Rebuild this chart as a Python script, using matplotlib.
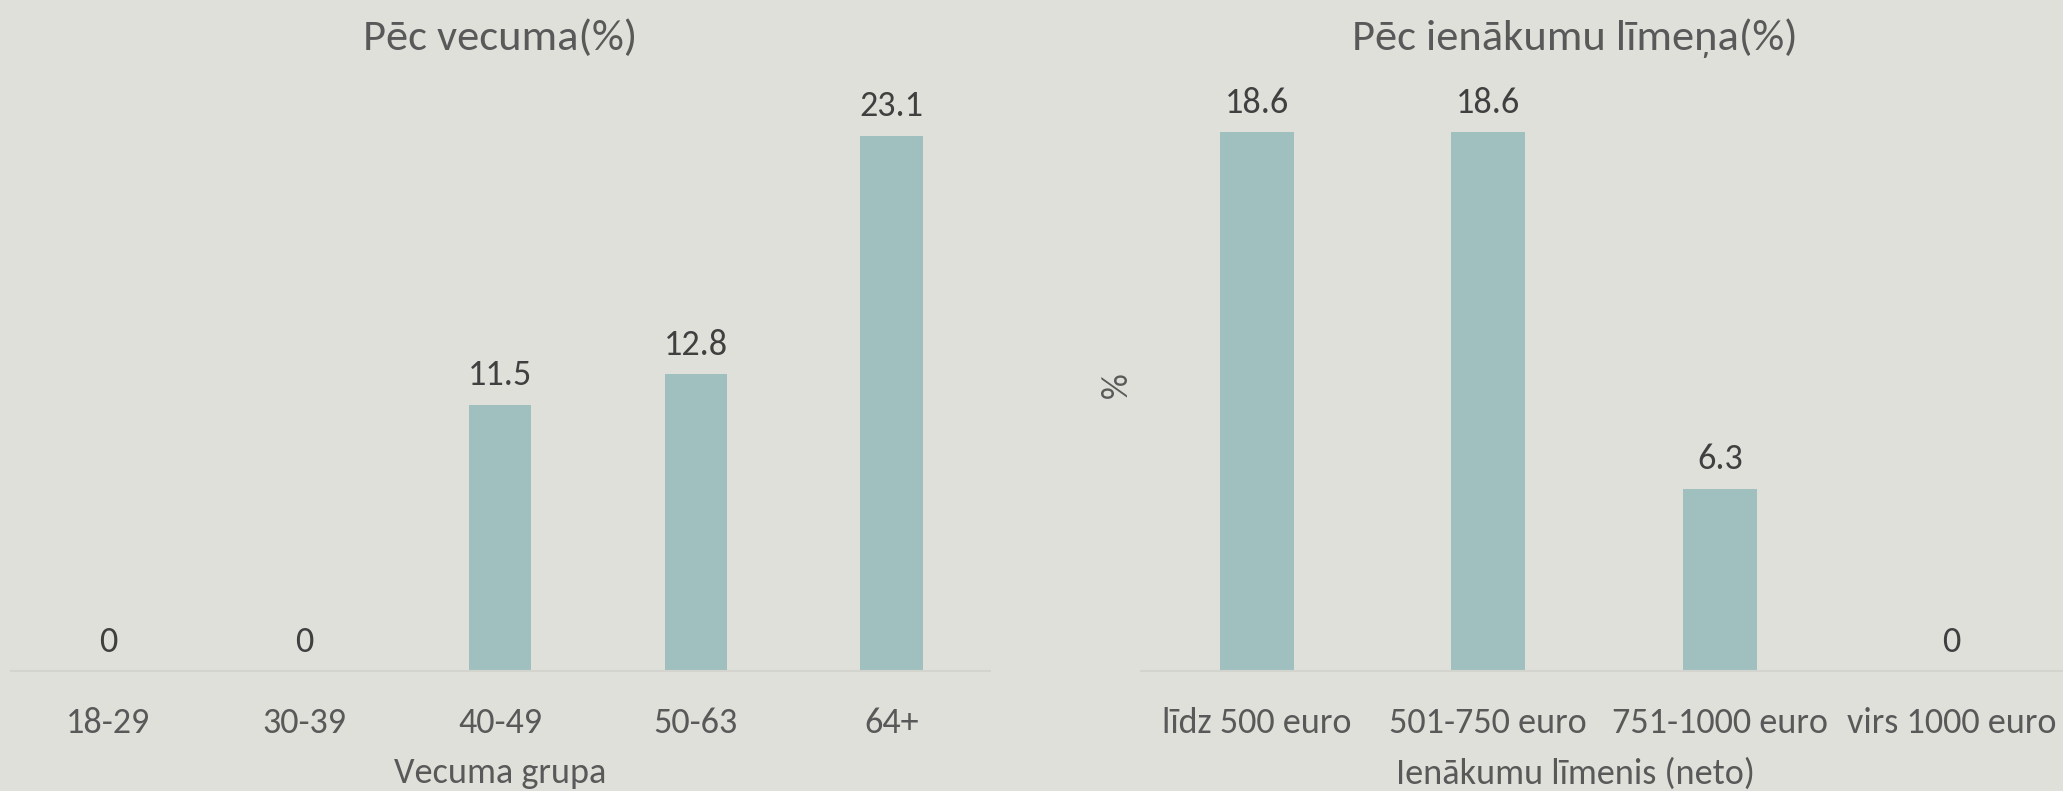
import matplotlib.pyplot as plt

plt.rcParams['font.family'] = ['Carlito', 'Liberation Sans Narrow', 'DejaVu Sans']

age_groups = ['18-29', '30-39', '40-49', '50-63', '64+']
age_values = [0, 0, 11.5, 12.8, 23.1]

income_groups = ['līdz 500 euro', '501-750 euro', '751-1000 euro', 'virs 1000 euro']
income_values = [18.6, 18.6, 6.3, 0]

BG = '#E0E0DB'
BAR = '#9FC0BF'
TXT = '#595959'
LBL = '#404040'
AXIS = '#D4D4CF'

fig = plt.figure(figsize=(20.63, 7.91), dpi=100, facecolor=BG)
ax1 = fig.add_axes([0.0051, 0.1517, 0.4746, 0.7219])
ax2 = fig.add_axes([0.553, 0.1517, 0.449, 0.7219])


def draw(ax, cats, vals, ymax, title, xlabel, tx):
    ax.set_facecolor(BG)
    x = range(len(cats))
    bars = ax.bar(x, vals, width=0.32, color=BAR)
    for b, v in zip(bars, vals):
        ax.annotate(f'{v:g}', (b.get_x() + b.get_width() / 2, v), xytext=(0, 14),
                    textcoords='offset points', ha='center', va='baseline',
                    fontsize=26, color=LBL)
    ax.set_xlim(-0.5, len(cats) - 0.5)
    ax.set_ylim(0, ymax)
    for name, sp in ax.spines.items():
        sp.set_visible(name == 'bottom')
    ax.spines['bottom'].set_color(AXIS)
    ax.spines['bottom'].set_linewidth(1.5)
    ax.set_yticks([])
    ax.set_xticks(list(x), cats)
    ax.tick_params(axis='x', length=0, pad=26, labelsize=26, labelcolor=TXT)
    ax.set_title(title, fontsize=32, color=TXT, pad=36, x=tx)
    ax.set_xlabel(xlabel, fontsize=26, color=TXT, labelpad=13, x=tx)


draw(ax1, age_groups, age_values, 24.65, 'Pēc vecuma(%)', 'Vecuma grupa', 0.5)
draw(ax2, income_groups, income_values, 19.72, 'Pēc ienākumu līmeņa(%)',
     'Ienākumu līmenis (neto)', 0.469)
ax2.set_ylabel('%', fontsize=26, color=TXT, labelpad=6)

fig.savefig('out.png', dpi=100, facecolor=BG)
